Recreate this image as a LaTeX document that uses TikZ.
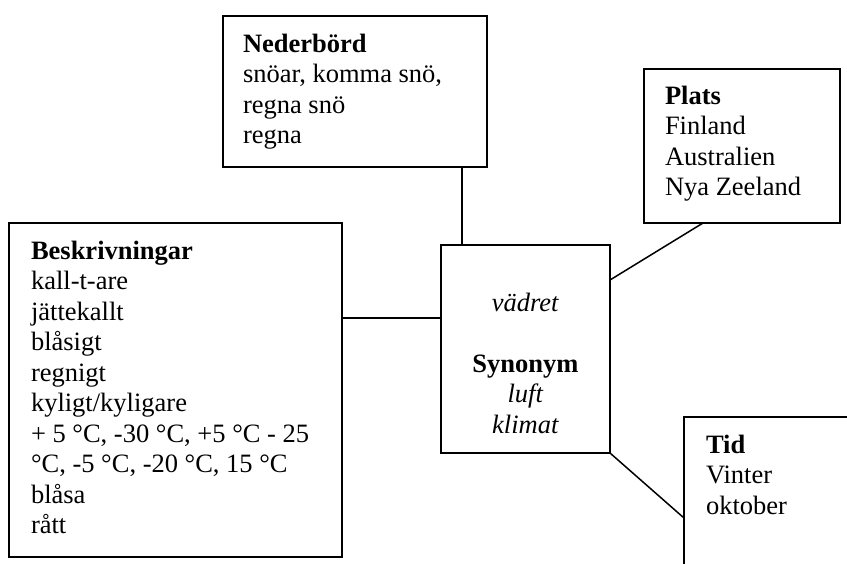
\documentclass[tikz,border=0pt]{standalone}
\usepackage{fontspec}
\setmainfont{Liberation Serif}
\usetikzlibrary{calc}
\begin{document}
\begin{tikzpicture}[x=1pt,y=-1pt,line width=1.5pt,
  box/.style={draw,rectangle,inner sep=0pt,outer sep=0pt,anchor=north west},
  txt/.style={inner sep=0pt,outer sep=0pt,anchor=north west,align=left,font=\fontsize{26.5}{30.5}\selectfont},
  ctxt/.style={inner sep=0pt,outer sep=0pt,anchor=north,align=center,font=\fontsize{26.5}{30.5}\selectfont},
  link/.style={draw,line width=1.5pt}]
\useasboundingbox (0,0) rectangle (847,563);
\clip (0,0) rectangle (847,563);
% boxes
\node[box,minimum width=264pt,minimum height=151pt] (ned) at (223,16) {};
\node[box,minimum width=196pt,minimum height=154pt] (plats) at (644,69) {};
\node[box,minimum width=333pt,minimum height=334pt] (besk) at (9,223) {};
\node[box,minimum width=169pt,minimum height=208pt] (ctr) at (441,245) {};
\node[box,minimum width=300pt,minimum height=300pt] (tid) at (684,417) {};
% texts
\node[txt] (nedT) at ($(ned.north west)+(20,9)$)
  {\rule{0pt}{27pt}\textbf{Nederbörd}\\snöar, komma snö,\\regna snö\\regna};
\node[txt] (platsT) at ($(plats.north west)+(21,8)$)
  {\rule{0pt}{27pt}\textbf{Plats}\\Finland\\Australien\\Nya Zeeland};
\node[txt] (beskT) at ($(besk.north west)+(22,9)$)
  {\rule{0pt}{27pt}\textbf{Beskrivningar}\\kall-t-are\\jättekallt\\blåsigt\\regnigt\\kyligt/kyligare\\+ 5 °C, -30 °C, +5 °C - 25\\°C, -5 °C, -20 °C, 15 °C\\blåsa\\rått};
\node[txt] (tidT) at ($(tid.north west)+(22,9)$)
  {\rule{0pt}{27pt}\textbf{Tid}\\Vinter\\oktober};
\node[ctxt] (ctrT) at ($(ctr.north)+(0,39)$)
  {\rule{0pt}{27pt}\textit{vädret}\\\mbox{}\\\textbf{Synonym}\\\textit{luft}\\\textit{klimat}};
% connectors
\coordinate (cN) at ($(ctr.north west)+(21,0)$);
\coordinate (cW) at ($(ctr.north west)+(0,73)$);
\coordinate (cE) at ($(ctr.north east)+(0,35)$);
\coordinate (pS) at ($(plats.south west)+(59,0)$);
\coordinate (tW) at ($(tid.north west)+(0,101)$);
\draw[link] (ned.south -| cN) -- (cN);
\draw[link] (besk.east |- cW) -- (cW);
\draw[link] (pS) -- (cE);
\draw[link] (ctr.south east) -- (tW);
\end{tikzpicture}
\end{document}
